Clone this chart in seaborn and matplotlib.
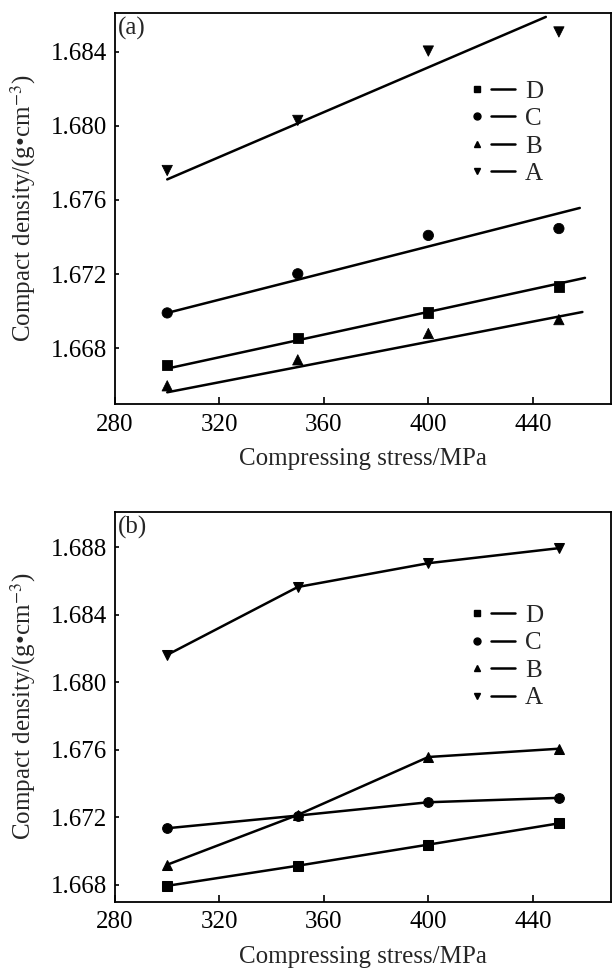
import numpy as np
import pandas as pd
import matplotlib
matplotlib.use("Agg")
import matplotlib.pyplot as plt
import seaborn as sns
from matplotlib.lines import Line2D
from matplotlib.legend_handler import HandlerTuple

# ---------------- data ----------------
stress = [300, 350, 400, 450]
series = ["D", "C", "B", "A"]
marker_of = {"D": "s", "C": "o", "B": "^", "A": "v"}

# panel (a): measured points
a_D = [1.66709, 1.66854, 1.66994, 1.67133]
a_C = [1.66991, 1.67202, 1.67409, 1.67446]
a_B = [1.66598, 1.66738, 1.66880, 1.66955]
a_A = [1.67759, 1.68029, 1.68403, 1.68506]

# panel (a): fitted lines (start / end), order D, C, B, A
fit_x_start = [300, 300, 300, 300]
fit_x_end = [460, 458, 459, 445]
fit_y_start = [1.66691, 1.66991, 1.66563, 1.67711]
fit_y_end = [1.67180, 1.67557, 1.66996, 1.68587]

# panel (b): measured points joined by lines
b_D = [1.66794, 1.66913, 1.67038, 1.67164]
b_C = [1.67135, 1.67210, 1.67289, 1.67315]
b_B = [1.66919, 1.67214, 1.67557, 1.67606]
b_A = [1.68162, 1.68564, 1.68705, 1.68794]

a_ticks = [1.668, 1.672, 1.676, 1.680, 1.684]
b_ticks = [1.668, 1.672, 1.676, 1.680, 1.684, 1.688]
x_ticks = [280, 320, 360, 400, 440]

# ---------------- frames ----------------
def frame(vals):
    rows = []
    for s, v in zip(series, vals):
        for x, y in zip(stress, v):
            rows.append({"stress": x, "density": y, "series": s})
    return pd.DataFrame(rows)

df_a = frame([a_D, a_C, a_B, a_A])
df_b = frame([b_D, b_C, b_B, b_A])
fit_rows = []
for s, x0, x1, y0, y1 in zip(series, fit_x_start, fit_x_end, fit_y_start, fit_y_end):
    fit_rows.append({"stress": x0, "density": y0, "series": s})
    fit_rows.append({"stress": x1, "density": y1, "series": s})
df_fit = pd.DataFrame(fit_rows)

# ---------------- style ----------------
sns.set_theme(style="ticks")
plt.rcParams["font.family"] = ["Liberation Serif", "DejaVu Serif"]
plt.rcParams["mathtext.fontset"] = "stix"
FS = 18
plt.rcParams["font.size"] = FS

fig = plt.figure(figsize=(6.14, 9.73), dpi=100)
ax1 = fig.add_axes([0.1873, 0.5848, 0.808, 0.4022])
ax2 = fig.add_axes([0.1873, 0.0733, 0.808, 0.4008])

sns.scatterplot(data=df_a, x="stress", y="density", style="series",
                markers=marker_of, color="black", edgecolor="black",
                s=55, legend=False, ax=ax1, zorder=3)
sns.lineplot(data=df_fit, x="stress", y="density", units="series",
             estimator=None, color="black", lw=1.8, legend=False, ax=ax1)

sns.lineplot(data=df_b, x="stress", y="density", style="series",
             markers=marker_of, dashes=False, color="black", lw=1.8,
             markersize=7, markeredgecolor="black", legend=False, ax=ax2)


def finish(ax, ylim, yticks, tag, leg_anchor):
    ax.set_xlim(280, 470)
    ax.set_ylim(*ylim)
    ax.set_xticks(x_ticks)
    ax.set_yticks(yticks)
    ax.set_yticklabels([f"{t:.3f}" for t in yticks])
    ax.tick_params(axis="x", direction="in", length=5, width=1.2,
                   labelsize=FS, pad=7, colors="black")
    ax.tick_params(axis="y", direction="in", length=3, width=1.2,
                   labelsize=FS, pad=6, colors="black")
    for sp in ax.spines.values():
        sp.set_linewidth(1.3)
        sp.set_color("black")
    ax.set_xlabel("Compressing stress/MPa", fontsize=FS, labelpad=9)
    ax.set_ylabel("Compact density/(g\u2022cm$^{-3}$)", fontsize=FS, labelpad=9)
    ax.text(0.005, 0.99, tag, transform=ax.transAxes, va="top", ha="left",
            fontsize=FS)
    handles = []
    for s in series:
        m = Line2D([], [], ls="none", marker=marker_of[s], color="black",
                   markersize=5)
        l = Line2D([], [], color="black", lw=1.8)
        handles.append((m, l))
    ax.legend(handles, series,
              handler_map={tuple: HandlerTuple(ndivide=None, pad=0.1)},
              loc="upper left", bbox_to_anchor=leg_anchor, frameon=False,
              handlelength=2.0, handletextpad=0.4, labelspacing=0.2,
              fontsize=FS, borderaxespad=0)


finish(ax1, (1.665, 1.6861), a_ticks, "(a)", (0.685, 0.853))
finish(ax2, (1.667, 1.6901), b_ticks, "(b)", (0.685, 0.788))

fig.savefig("out.png", dpi=100)
